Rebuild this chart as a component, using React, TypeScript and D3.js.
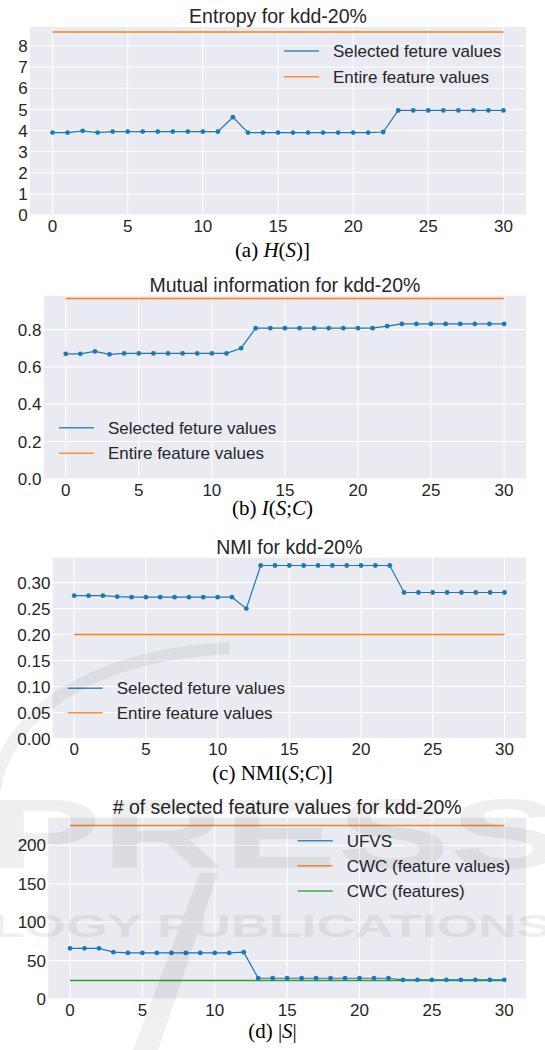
import React from 'react';
import * as d3 from 'd3';

// x positions (iterations) shared by all four panels
const steps = [0, 1, 2, 3, 4, 5, 6, 7, 8, 9, 10, 11, 12, 13, 14, 15, 16, 17, 18, 19, 20, 21, 22, 23, 24, 25, 26, 27, 28, 29, 30];
const xTicks = [0, 5, 10, 15, 20, 25, 30];

// (a) entropy
const entropySelected = [3.9, 3.9, 3.98, 3.9, 3.95, 3.95, 3.95, 3.95, 3.95, 3.95, 3.95, 3.95, 4.63, 3.9, 3.9, 3.9, 3.9, 3.9, 3.9, 3.9, 3.9, 3.9, 3.93, 4.95, 4.95, 4.95, 4.95, 4.95, 4.95, 4.95, 4.95];
const entropyEntire = 8.66;
const entropyTicks = [0, 1, 2, 3, 4, 5, 6, 7, 8];

// (b) mutual information
const miSelected = [0.67, 0.67, 0.683, 0.667, 0.672, 0.672, 0.672, 0.672, 0.672, 0.672, 0.672, 0.672, 0.70, 0.807, 0.807, 0.807, 0.807, 0.807, 0.807, 0.807, 0.807, 0.807, 0.818, 0.83, 0.83, 0.83, 0.83, 0.83, 0.83, 0.83, 0.83];
const miEntire = 0.966;
const miTicks = [0, 0.2, 0.4, 0.6, 0.8];

// (c) NMI
const nmiSelected = [0.275, 0.275, 0.275, 0.273, 0.272, 0.272, 0.272, 0.272, 0.272, 0.272, 0.272, 0.272, 0.25, 0.333, 0.333, 0.333, 0.333, 0.333, 0.333, 0.333, 0.333, 0.333, 0.333, 0.281, 0.281, 0.281, 0.281, 0.281, 0.281, 0.281, 0.281];
const nmiEntire = 0.2;
const nmiTicks = [0, 0.05, 0.1, 0.15, 0.2, 0.25, 0.3];

// (d) number of selected feature values
const ufvsCounts = [66, 66, 66, 61, 60, 60, 60, 60, 60, 60, 60, 60, 61, 27, 27, 27, 27, 27, 27, 27, 27, 27, 27, 25, 25, 25, 25, 25, 25, 25, 25];
const cwcFeatureValues = 226;
const cwcFeatures = 24;
const countTicks = [0, 50, 100, 150, 200];

const legendAB = ['Selected feture values', 'Entire feature values'];
const legendD = ['UFVS', 'CWC (feature values)', 'CWC (features)'];

const BLUE = '#1f77b4';
const ORANGE = '#ff7f0e';
const GREEN = '#2ca02c';
const TEXT = '#262626';
const SANS = '"Liberation Sans", Arial, sans-serif';
const SERIF = '"Liberation Serif", "Times New Roman", serif';

const panels = [
  {
    id: 'a', title: 'Entropy for kdd-20%', left: 30, right: 526, top: 27, bottom: 215, yMax: 8.9,
    yTicks: entropyTicks, fmt: d3.format('d'), selected: entropySelected,
    flat: [{v: entropyEntire, c: ORANGE}], legend: legendAB, legendColors: [BLUE, ORANGE],
    legendX: 284, legendY: 51, legendGap: 25.7, captionY: 257, caption: 'a'
  },
  {
    id: 'b', title: 'Mutual information for kdd-20%', left: 43.8, right: 526, top: 295.7, bottom: 479, yMax: 0.981,
    yTicks: miTicks, fmt: d3.format('.1f'), selected: miSelected,
    flat: [{v: miEntire, c: ORANGE}], legend: legendAB, legendColors: [BLUE, ORANGE],
    legendX: 59, legendY: 427.7, legendGap: 25.6, captionY: 515, caption: 'b'
  },
  {
    id: 'c', title: 'NMI for kdd-20%', left: 52.7, right: 526, top: 557.7, bottom: 738.5, yMax: 0.348,
    yTicks: nmiTicks, fmt: d3.format('.2f'), selected: nmiSelected,
    flat: [{v: nmiEntire, c: ORANGE}], legend: legendAB, legendColors: [BLUE, ORANGE],
    legendX: 67.7, legendY: 688.3, legendGap: 24.5, captionY: 780, caption: 'c'
  },
  {
    id: 'd', title: '# of selected feature values for kdd-20%', left: 48.3, right: 526, top: 817.7, bottom: 999, yMax: 236,
    yTicks: countTicks, fmt: d3.format('d'), selected: ufvsCounts,
    flat: [{v: cwcFeatureValues, c: ORANGE}, {v: cwcFeatures, c: GREEN}], legend: legendD, legendColors: [BLUE, ORANGE, GREEN],
    legendX: 297.7, legendY: 840.7, legendGap: 25.1, captionY: 1038, caption: 'd'
  }
];

function Caption({id, y}: {id: string; y: number}) {
  const it = {fontStyle: 'italic'} as const;
  let body: React.ReactNode = null;
  if (id === 'a') {
    body = (<>(a) <tspan style={it}>H</tspan>(<tspan style={it}>S</tspan>)]</>);
  } else if (id === 'b') {
    body = (<>(b) <tspan style={it}>I</tspan>(<tspan style={it}>S</tspan>;<tspan style={it}>C</tspan>)</>);
  } else if (id === 'c') {
    body = (<>(c) NMI(<tspan style={it}>S</tspan>;<tspan style={it}>C</tspan>)]</>);
  } else {
    body = (<>(d) |<tspan style={it}>S</tspan>|</>);
  }
  return (
    <text x={272.5} y={y} textAnchor="middle" fontFamily={SERIF} fontSize={21} fill="#000">{body}</text>
  );
}

function Panel({p}: {p: typeof panels[number]}) {
  const x = d3.scaleLinear().domain([-1.5, 31.5]).range([p.left, p.right]);
  const y = d3.scaleLinear().domain([0, p.yMax]).range([p.bottom, p.top]);
  const line = d3.line<number>().x((d, i) => x(steps[i])).y(d => y(d));
  const first = steps[0];
  const last = steps[steps.length - 1];

  return (
    <g>
      <rect x={p.left} y={p.top} width={p.right - p.left} height={p.bottom - p.top} fill="#eaeaf2" />
      {xTicks.map(t => (
        <line key={'gx' + t} x1={x(t)} x2={x(t)} y1={p.top} y2={p.bottom} stroke="#fff" strokeWidth={1} />
      ))}
      {p.yTicks.map(t => (
        <line key={'gy' + t} x1={p.left} x2={p.right} y1={y(t)} y2={y(t)} stroke="#fff" strokeWidth={1} />
      ))}
      {p.flat.map((f, i) => (
        <line key={'f' + i} x1={x(first)} x2={x(last)} y1={y(f.v)} y2={y(f.v)} stroke={f.c} strokeWidth={1.5} />
      ))}
      <path d={line(p.selected) || ''} fill="none" stroke={BLUE} strokeWidth={1.2} />
      {p.selected.map((v, i) => (
        <circle key={'m' + i} cx={x(steps[i])} cy={y(v)} r={2.4} fill={BLUE} />
      ))}
      {xTicks.map(t => (
        <text key={'tx' + t} x={x(t)} y={p.bottom + 16.5} textAnchor="middle" fontFamily={SANS} fontSize={17} fill={TEXT}>{t}</text>
      ))}
      {p.yTicks.map(t => (
        <text key={'ty' + t} x={p.left - 2.3} y={y(t)} dy="0.36em" textAnchor="end" fontFamily={SANS} fontSize={17} fill={TEXT}>{p.fmt(t)}</text>
      ))}
      <text x={(p.left + p.right) / 2} y={p.top - 4} textAnchor="middle" fontFamily={SANS} fontSize={19.5} fill={TEXT}>{p.title}</text>
      {p.legend.map((label, i) => (
        <g key={'l' + i} transform={`translate(${p.legendX},${p.legendY + i * p.legendGap})`}>
          <line x1={0} x2={35} y1={0} y2={0} stroke={p.legendColors[i]} strokeWidth={1.5} strokeOpacity={0.85} />
          <text x={49} y={0} dy="0.36em" fontFamily={SANS} fontSize={17} fill={TEXT}>{label}</text>
        </g>
      ))}
      <Caption id={p.caption} y={p.captionY} />
    </g>
  );
}

export default function App() {
  return (
    <svg width={545} height={1050} style={{position: 'absolute', left: 0, top: 0, background: '#fff'}}>
      <rect x={0} y={0} width={545} height={1050} fill="#fff" />
      {panels.map(p => <Panel key={p.id} p={p} />)}
      {/* faint publisher watermark over the lower panels */}
      <g fill="#000" opacity={0.06} fontFamily={SANS} fontWeight="bold">
        <path d="M -5,790 C 5,715 90,655 230,648" fill="none" stroke="#000" strokeWidth={12} />
        <text x={-12} y={868} fontSize={98} textLength={575} lengthAdjust="spacingAndGlyphs">PRESS</text>
        <text x={-8} y={937} fontSize={31} textLength={560} lengthAdjust="spacingAndGlyphs">LOGY PUBLICATIONS</text>
        <polygon points="200,873 218,873 158,1050 133,1050" />
      </g>
    </svg>
  );
}
